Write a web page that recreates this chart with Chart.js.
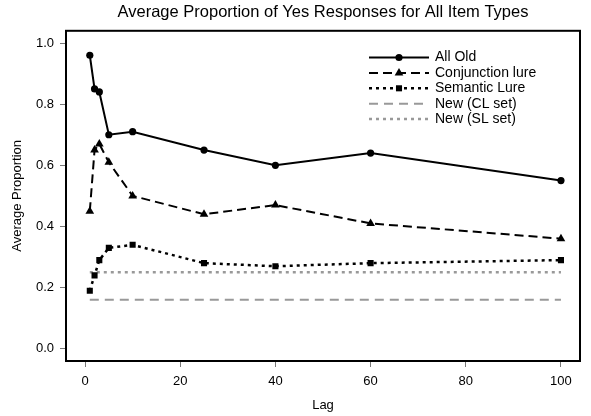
<!DOCTYPE html>
<html><head><meta charset="utf-8">
<script src="https://cdn.jsdelivr.net/npm/chart.js@4"></script>
<style>html,body{margin:0;padding:0;background:#fff}#wrap{width:591px;height:416px}</style>
</head><body><div id="wrap"><canvas id="c" width="591" height="416"></canvas></div>
<script>
const lags = [1, 2, 3, 5, 10, 25, 40, 60, 100];
const allOld = [0.96, 0.85, 0.84, 0.70, 0.71, 0.65, 0.60, 0.64, 0.55];
const conjunctionLure = [0.45, 0.65, 0.67, 0.61, 0.50, 0.44, 0.47, 0.41, 0.36];
const semanticLure = [0.19, 0.24, 0.29, 0.33, 0.34, 0.28, 0.27, 0.28, 0.29];
const baselineLags = [1, 100];
const newCL = [0.16, 0.16];
const newSL = [0.25, 0.25];
const seriesNames = ['All Old', 'Conjunction lure', 'Semantic Lure', 'New (CL set)', 'New (SL set)'];
const xTicks = [0, 20, 40, 60, 80, 100];
const yTicks = [0.0, 0.2, 0.4, 0.6, 0.8, 1.0];

const pts = (xs, ys) => xs.map((x, i) => ({x: x, y: ys[i]}));
const FONT = "'Liberation Sans', Arial, Helvetica, sans-serif";

const datasets = [
  {label: seriesNames[0], data: pts(lags, allOld), borderColor: '#000', backgroundColor: '#000',
   borderWidth: 2, pointStyle: 'circle', pointRadius: 3.6, pointBorderWidth: 0},
  {label: seriesNames[1], data: pts(lags, conjunctionLure), borderColor: '#000', backgroundColor: '#000',
   borderWidth: 2, borderDash: [9, 5], pointStyle: 'triangle', pointRadius: 5, pointBorderWidth: 0},
  {label: seriesNames[2], data: pts(lags, semanticLure), borderColor: '#000', backgroundColor: '#000',
   borderWidth: 2.5, borderDash: [3, 4], pointStyle: 'rect', pointRadius: 4.3, pointBorderWidth: 0},
  {label: seriesNames[3], data: pts(baselineLags, newCL), borderColor: '#999', backgroundColor: '#999',
   borderWidth: 2, borderDash: [9, 6], pointRadius: 0},
  {label: seriesNames[4], data: pts(baselineLags, newSL), borderColor: '#999', backgroundColor: '#999',
   borderWidth: 2.5, borderDash: [3, 4], pointRadius: 0}
];
datasets.forEach(d => { d.tension = 0; d.fill = false; d.borderCapStyle = 'butt'; });

const boxAndLegend = {
  id: 'boxAndLegend',
  afterDatasetsDraw(chart) {
    const {ctx, chartArea: a} = chart;
    ctx.save();
    ctx.strokeStyle = '#000';
    ctx.lineWidth = 2;
    ctx.setLineDash([]);
    ctx.strokeRect(a.left, a.top, a.right - a.left, a.bottom - a.top);
    // legend
    const x0 = a.left + 303, x1 = a.left + 363, tx = a.left + 369;
    const rowY0 = a.top + 26.7, rowH = 15.4;
    ctx.font = '14px ' + FONT;
    ctx.textBaseline = 'middle';
    ctx.textAlign = 'left';
    datasets.forEach((d, i) => {
      const y = rowY0 + i * rowH;
      ctx.save();
      ctx.strokeStyle = d.borderColor;
      ctx.lineWidth = d.borderWidth;
      ctx.setLineDash(d.borderDash || []);
      ctx.beginPath();
      ctx.moveTo(x0, y); ctx.lineTo(x1, y); ctx.stroke();
      ctx.restore();
      if (d.pointRadius > 0) {
        ctx.fillStyle = '#000';
        ctx.strokeStyle = '#000';
        Chart.helpers.drawPoint(ctx, {pointStyle: d.pointStyle, radius: d.pointRadius, borderWidth: 0, rotation: 0}, (x0 + x1) / 2, y);
      }
      ctx.fillStyle = '#000';
      ctx.fillText(d.label, tx, y);
    });
    ctx.restore();
  }
};

new Chart(document.getElementById('c'), {
  type: 'line',
  data: {datasets: datasets},
  options: {
    responsive: false,
    devicePixelRatio: 1,
    animation: false,
    layout: {padding: {left: 0, right: 11, top: 0, bottom: 0}},
    plugins: {
      legend: {display: false},
      tooltip: {enabled: false},
      title: {display: true, text: 'Average Proportion of Yes Responses for All Item Types',
        fullSize: false, color: '#000', font: {family: FONT, size: 16.5, weight: 'normal'},
        padding: {top: 3, bottom: 8}}
    },
    scales: {
      x: {type: 'linear', min: -4, max: 104,
        afterBuildTicks: s => { s.ticks = xTicks.map(v => ({value: v})); },
        afterFit: s => { s.height = 55; },
        ticks: {color: '#000', font: {family: FONT, size: 13}, padding: 7, maxRotation: 0},
        grid: {drawOnChartArea: false, drawTicks: true, tickLength: 6, color: '#777', lineWidth: 1},
        border: {display: false},
        title: {display: true, text: 'Lag', color: '#000', font: {family: FONT, size: 13}, padding: {top: 0, bottom: 3}}
      },
      y: {min: -0.04, max: 1.04,
        afterBuildTicks: s => { s.ticks = yTicks.map(v => ({value: v})); },
        afterFit: s => { s.width = 66; },
        ticks: {color: '#000', font: {family: FONT, size: 13}, padding: 6,
          callback: v => Number(v).toFixed(1)},
        grid: {drawOnChartArea: false, drawTicks: true, tickLength: 6, color: '#777', lineWidth: 1},
        border: {display: false},
        title: {display: true, text: 'Average Proportion', color: '#000', font: {family: FONT, size: 13}, padding: {top: 10, bottom: 0}}
      }
    }
  },
  plugins: [boxAndLegend]
});
</script>
</body></html>
